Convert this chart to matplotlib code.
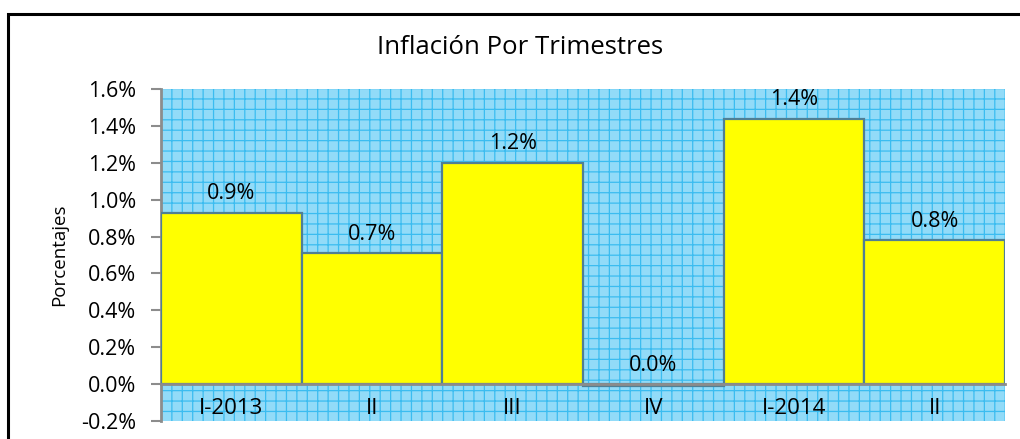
import matplotlib
matplotlib.use("Agg")
import matplotlib.pyplot as plt
from matplotlib.patches import Rectangle
from matplotlib.ticker import FuncFormatter, MultipleLocator

categories = ["I-2013", "II", "III", "IV", "I-2014", "II"]
values = [0.93, 0.71, 1.20, -0.01, 1.44, 0.78]
labels = ["0.9%", "0.7%", "1.2%", "0.0%", "1.4%", "0.8%"]
title = "Inflación Por Trimestres"
ylabel = "Porcentajes"

DPI = 125
W, H = 1021, 439
K = 100.0 / DPI  # keep sizes as if drawn at 100 dpi


def pt(v):
    return v * K


plt.rcParams['font.family'] = ['Open Sans', 'DejaVu Sans']
plt.rcParams['hatch.linewidth'] = pt(0.9)

fig = plt.figure(figsize=(W / DPI, H / DPI), dpi=DPI)
fig.patch.set_facecolor('white')

ax = fig.add_axes([161 / W, (H - 421) / H, (1005 - 161) / W, (421 - 89) / H])
ax.patch.set_facecolor('#92dbf8')
ax.patch.set_edgecolor('#3bbcf0')
ax.patch.set_hatch('++')
ax.patch.set_linewidth(0)

x = range(len(categories))
ax.bar(x, values, width=1.0, color='#ffff00', edgecolor='#4f7f95', linewidth=pt(1.6), zorder=3)

for xi, v, lab in zip(x, values, labels):
    ax.annotate(lab, (xi, max(v, 0)), xytext=(0, pt(6)), textcoords='offset points',
                ha='center', va='bottom', fontsize=pt(15.5), color='black', zorder=5)

ax.set_xlim(-0.5, len(categories) - 0.5)
ax.set_ylim(-0.2, 1.6)
ax.yaxis.set_major_locator(MultipleLocator(0.2))
ax.yaxis.set_major_formatter(FuncFormatter(lambda v, p: f"{v:.1f}%"))

ax.set_xticks(list(x))
ax.set_xticklabels(categories)

for s in ['top', 'right']:
    ax.spines[s].set_visible(False)
ax.spines['left'].set_color('#8c8c8c')
ax.spines['left'].set_linewidth(pt(2))
ax.spines['bottom'].set_position(('data', 0))
ax.spines['bottom'].set_color('#8c8c8c')
ax.spines['bottom'].set_linewidth(pt(2))
ax.spines['bottom'].set_zorder(4)

ax.tick_params(axis='y', direction='out', length=pt(7), width=pt(1.5), color='#8c8c8c',
               labelsize=pt(15.5), pad=pt(11))
ax.tick_params(axis='x', length=0, labelsize=pt(16), pad=pt(10))

ax.set_ylabel(ylabel, fontsize=pt(13.5), labelpad=pt(9))
fig.text((375 + 665) / 2 / W, 1 - 47 / H, title, ha='center', va='center', fontsize=pt(18.5))

border = Rectangle((8 / W, -0.2), 1.2, 1 - 14 / H + 0.2, transform=fig.transFigure,
                   fill=False, edgecolor='black', linewidth=pt(2.2), clip_on=False)
fig.patches.append(border)

fig.savefig("out.png", dpi=DPI)
